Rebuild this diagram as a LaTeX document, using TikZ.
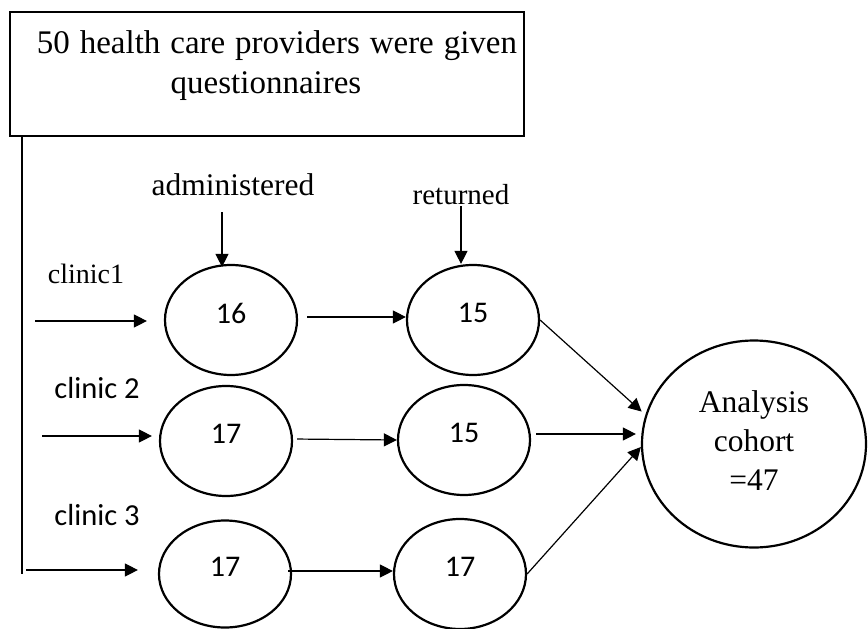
\documentclass[tikz,border=0pt]{standalone}
\usepackage{fontspec}
\setmainfont{Liberation Serif}
\newfontfamily\clbfont{Carlito}
\usetikzlibrary{shapes.geometric,arrows.meta}
\begin{document}
\begin{tikzpicture}[x=1pt,y=-1pt,
  arr/.style={line width=1.2pt,-{Triangle[length=13pt,width=13pt]}},
  thin line/.style={line width=1.2pt},
  oval/.style={ellipse,draw,line width=2.2pt,minimum width=132pt,minimum height=110pt,
    inner sep=0pt,font=\clbfont\fontsize{30}{32}\selectfont,text depth=14pt},
  bigoval/.style={ellipse,draw,line width=2.2pt,minimum width=224pt,minimum height=207pt,
    inner sep=0pt,font=\fontsize{31.5}{39}\selectfont},
  serlabel/.style={inner sep=0pt,font=\fontsize{#1}{#1}\selectfont},
  sanlabel/.style={inner sep=0pt,font=\clbfont\fontsize{30.5}{32}\selectfont},
  topbox/.style={draw,line width=2pt,minimum width=514pt,minimum height=124pt,inner sep=0pt}
]
\useasboundingbox (0,0) rectangle (868,629);

% top box
\node[topbox] (box) at (267,74) {};
\node[inner sep=0pt,font=\fontsize{33}{40}\selectfont] (boxtext) at (277,65)
  {\begin{tabular}{@{}c@{}}{\spaceskip=0.3em plus 0.1em 50 health care providers were given}\\questionnaires\kern22pt\end{tabular}};

% ellipses
\node[oval] (e16) at (231,320) {16};
\node[oval] (e15a) at (473,320) {15};
\node[oval] (e17a) at (226,441) {17};
\node[oval] (e15b) at (464,440) {15};
\node[oval,minimum height=107pt] (e17b) at (225,574) {17};
\node[oval] (e17c) at (460,574) {17};
\node[bigoval] (an) at (754,444)
  {\begin{tabular}{@{}c@{}}Analysis\\cohort\\=47\end{tabular}};

% labels
\node[serlabel=31.5] (adm) at (233,185) {administered};
\node[serlabel=29] (ret) at (461,195) {returned};
\node[serlabel=28] (cl1) at (86,274) {clinic1};
\node[sanlabel] (cl2) at (97,388) {clinic 2};
\node[sanlabel] (cl3) at (97,515) {clinic 3};

% free ends
\coordinate (admtop) at (222,212);
\coordinate (rettop) at (461,206);
\coordinate (c1) at (35,321);
\coordinate (c2) at (42,436);
\coordinate (c3) at (26,570);
\coordinate (vbot) at (22,574);

% left vertical line
\draw[thin line] (vbot |- box.south) -- (vbot);

% arrows
\draw[arr] (admtop) -- ([yshift=-3pt]admtop |- e16.north);
\draw[arr] (rettop) -- (rettop |- e15a.north);
\draw[arr,shorten >=17pt] (c1) -- (c1 -| e16.west);
\draw[arr,shorten >=7pt] (c2) -- (c2 -| e17a.west);
\draw[arr,shorten >=20pt] (c3) -- (c3 -| e17b.west);

\draw[arr,shorten <=9pt] ([yshift=3pt]e16.east) -- ([yshift=3pt]e15a.west);
\draw[arr,shorten <=4pt] ([yshift=2pt]e17a.east) -- (e15b.west);
\draw[arr,shorten <=-4pt] ([yshift=3pt]e17b.east) -- ([yshift=3pt]e17c.west);

\draw[arr,shorten >=5pt] (e15a.east) -- (an.165);
\draw[arr,shorten <=5pt,shorten >=5pt] ([yshift=6pt]e15b.east) -- ([yshift=10pt]an.west);
\draw[arr] (e17c.east) -- ([yshift=-3pt]an.west);
\end{tikzpicture}
\end{document}
